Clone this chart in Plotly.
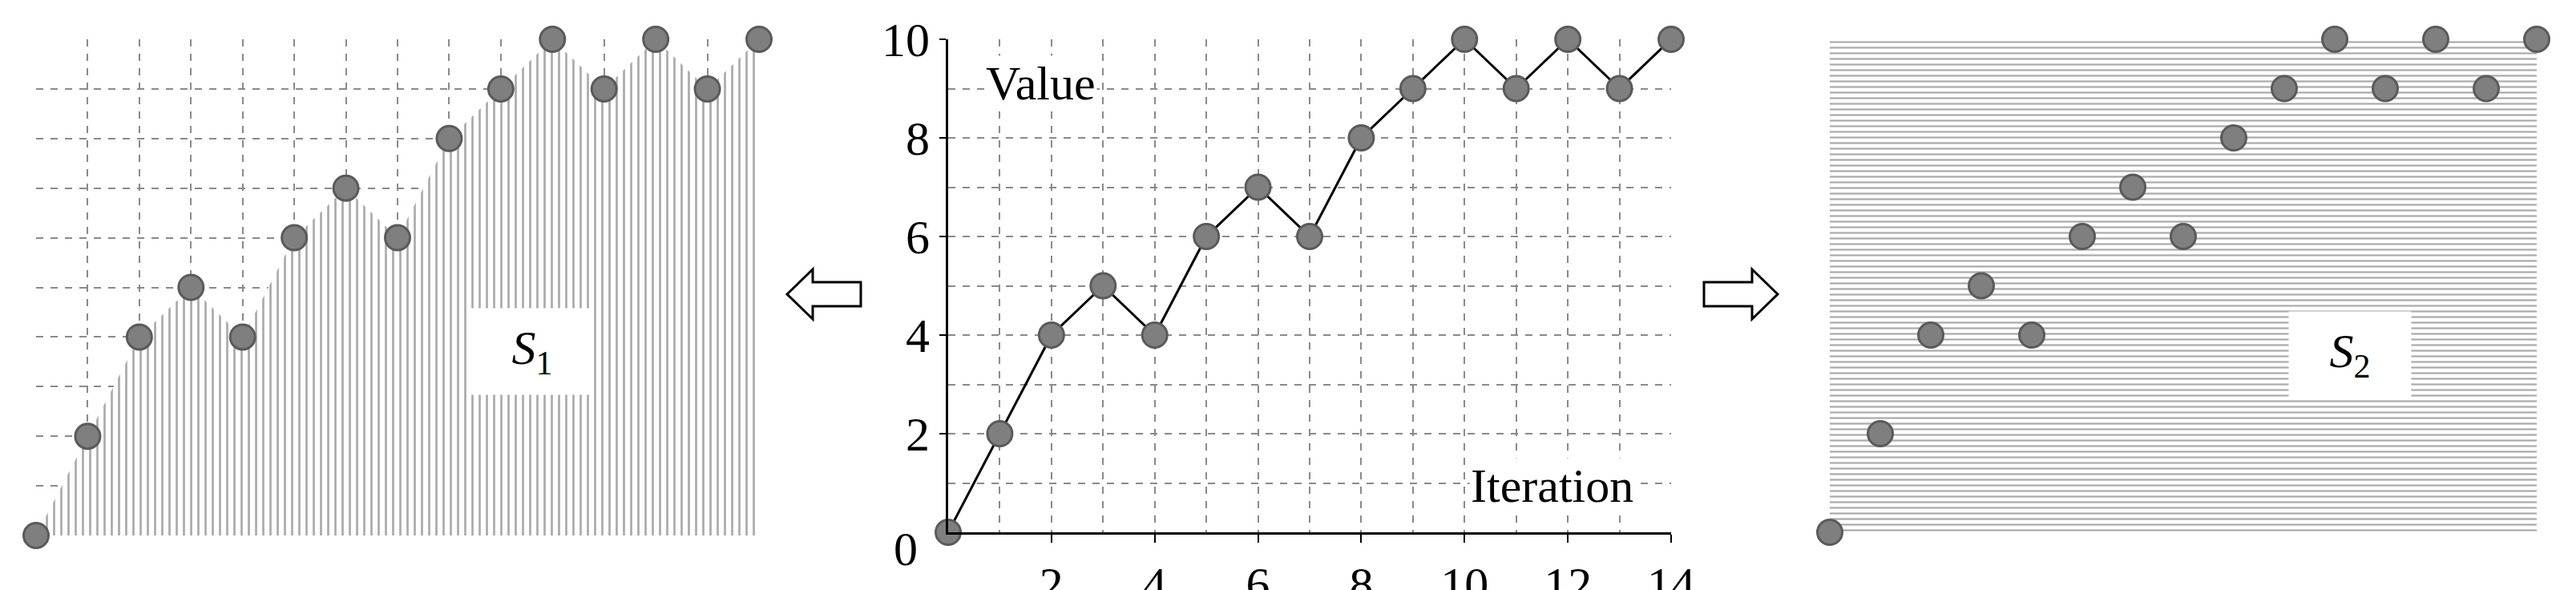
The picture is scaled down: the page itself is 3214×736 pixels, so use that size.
import plotly.graph_objects as go

# data
iterations = list(range(15))
values = [0, 2, 4, 5, 4, 6, 7, 6, 8, 9, 10, 9, 10, 9, 10]
x_ticks = [2, 4, 6, 8, 10, 12, 14]
y_ticks = [2, 4, 6, 8, 10]
x_box = [0, 14]
y_box = [10, 10]

W, H = 3214, 736
dot = dict(size=31, color='#7f7f7f', line=dict(color='#5a5a5a', width=3))
serif = 'Liberation Serif'


def px(x, y):
    # pixel position -> paper position
    return x / W, 1 - y / H


fig = go.Figure()

# left panel: area under the curve with vertical hatching
fig.add_trace(go.Scatter(x=iterations, y=values, mode='lines', line=dict(width=0),
                         fill='tozeroy', fillcolor='white',
                         fillpattern=dict(shape='|', size=9, solidity=0.3,
                                          fgcolor='#555555', bgcolor='white'),
                         xaxis='x', yaxis='y', hoverinfo='skip'))
fig.add_trace(go.Scatter(x=iterations, y=values, mode='markers', marker=dot,
                         cliponaxis=False, xaxis='x', yaxis='y'))

# centre panel: the line
fig.add_trace(go.Scatter(x=iterations, y=values, mode='lines+markers',
                         line=dict(color='black', width=3), marker=dot,
                         cliponaxis=False, xaxis='x2', yaxis='y2'))

# right panel: full box with horizontal hatching
fig.add_trace(go.Scatter(x=x_box, y=y_box, mode='lines', line=dict(width=0),
                         fill='tozeroy', fillcolor='white',
                         fillpattern=dict(shape='-', size=7, solidity=0.32,
                                          fgcolor='#555555', bgcolor='white'),
                         xaxis='x3', yaxis='y3', hoverinfo='skip'))
fig.add_trace(go.Scatter(x=iterations, y=values, mode='markers', marker=dot,
                         cliponaxis=False, xaxis='x3', yaxis='y3'))

grid = dict(showgrid=True, gridcolor='#8a8a8a', griddash='dash', gridwidth=2,
            dtick=1, zeroline=False, showticklabels=False, ticks='', automargin=False)
minor = dict(dtick=1, showgrid=True, gridcolor='#8a8a8a', griddash='dash', gridwidth=2)

d1 = px(37, 660), px(939, 41)
d2 = px(1175, 656), px(2077, 41)
d3 = px(2275, 656), px(3157, 41)

fig.update_layout(
    width=W, height=H, showlegend=False,
    margin=dict(l=0, r=0, t=0, b=0),
    paper_bgcolor='white', plot_bgcolor='white',
    font=dict(family=serif, color='black'),
    xaxis=dict(grid, domain=[d1[0][0], d1[1][0]], range=[0, 14]),
    yaxis=dict(grid, domain=[d1[0][1], d1[1][1]], range=[0, 10]),
    xaxis2=dict(grid, domain=[d2[0][0], d2[1][0]], range=[0, 14], anchor='y2',
                showticklabels=True, tickvals=x_ticks, tickfont=dict(size=60),
                showline=True, linecolor='black', linewidth=3, ticks='outside',
                ticklen=10, tickcolor='black', tickwidth=2, minor=minor),
    yaxis2=dict(grid, domain=[d2[0][1], d2[1][1]], range=[0, 10], anchor='x2',
                showticklabels=True, tickvals=y_ticks, tickfont=dict(size=60),
                showline=True, linecolor='black', linewidth=3, ticks='outside',
                ticklen=8, tickcolor='black', tickwidth=2, minor=minor),
    xaxis3=dict(domain=[d3[0][0], d3[1][0]], range=[0, 14], anchor='y3', automargin=False,
                showgrid=False, zeroline=False, showticklabels=False),
    yaxis3=dict(domain=[d3[0][1], d3[1][1]], range=[0, 10], anchor='x3', automargin=False,
                showgrid=False, zeroline=False, showticklabels=False),
)

label_box = dict(bgcolor='white', showarrow=False, width=150, height=105,
                 font=dict(family=serif, size=60))
fig.add_annotation(x=9.6, y=3.7, xref='x', yref='y', text='<i>S</i><sub>1</sub>', **label_box)
fig.add_annotation(x=10.3, y=3.6, xref='x3', yref='y3', text='<i>S</i><sub>2</sub>', **label_box)
fig.add_annotation(x=1.8, y=9.1, xref='x2', yref='y2', text='Value', showarrow=False,
                   bgcolor='white', font=dict(family=serif, size=60))
fig.add_annotation(x=11.7, y=0.95, xref='x2', yref='y2', text='Iteration', showarrow=False,
                   bgcolor='white', font=dict(family=serif, size=60))
fig.add_annotation(x=px(1122, 0)[0], y=px(0, 712)[1], xref='paper', yref='paper', text='0',
                   showarrow=False, font=dict(family=serif, size=60))


def arrow(pts):
    p = [px(x, y) for x, y in pts]
    return 'M ' + ' L '.join(f'{a:.5f},{b:.5f}' for a, b in p) + ' Z'


left_arrow = [(974, 359), (1006, 328), (1006, 344), (1066, 344), (1066, 374), (1006, 374), (1006, 390)]
right_arrow = [(2210, 359), (2178, 328), (2178, 344), (2118, 344), (2118, 374), (2178, 374), (2178, 390)]
for a in (left_arrow, right_arrow):
    fig.add_shape(type='path', path=arrow(a), xref='paper', yref='paper',
                  line=dict(color='black', width=3), fillcolor='white')

fig.write_html("out.html")
